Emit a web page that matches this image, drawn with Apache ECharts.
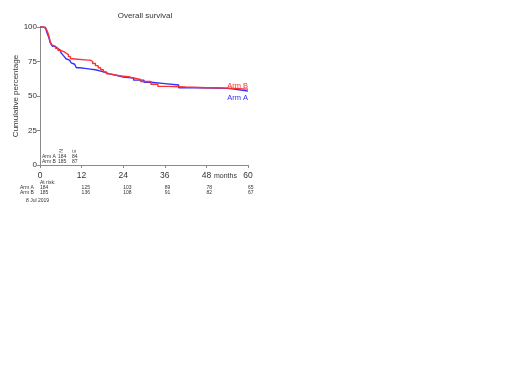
<!DOCTYPE html>
<html><head><meta charset="utf-8">
<script src="https://cdn.jsdelivr.net/npm/echarts@6/dist/echarts.min.js"></script>
<style>html,body{margin:0;padding:0;background:#fff}#c{width:520px;height:387px}</style>
</head><body><div id="c"></div>
<script>
// Kaplan-Meier step points [month, percent]
const armA = [[0,100],[1,100],[1.3,99],[1.6,98],[2,96],[2.3,94],[2.6,92],[2.9,89],[3.2,87.5],[3.6,86],[4.2,85],[4.8,84],[5.4,83],[6,81.5],[6.5,80],[7,78.5],[7.5,77],[8,76],[8.5,75],[9,74],[9.5,73],[10,72],[10.5,70.5],[11.5,70],[13,69.5],[14.5,69],[16,68],[17.5,67],[19,66],[20,65],[22,63.8],[24,63],[27,61.5],[30,60],[32,59],[36,58],[40,56],[45,55.8],[50,55.5],[54,55],[56,54],[59,53.5],[60,53.3]];
const armB = [[0,100],[1.5,100],[1.8,98.5],[2.1,97],[2.4,95],[2.7,92],[3,89],[3.4,87],[3.8,86],[4.5,84.5],[5.2,83],[6,82],[7,81],[7.6,80],[8.2,78.5],[8.8,77],[9.4,76],[13.8,76],[14.5,75],[15.2,73.5],[16,72],[16.8,70.5],[17.5,69],[18.3,67.5],[19.2,66],[20.2,65],[22,64.5],[23.5,64],[25.5,63],[27,62],[29,60.5],[32,58.5],[34,57],[37,56.5],[42,56],[48,56],[51,55.5],[56,55],[60,54.5]];
const xTicks = [0,12,24,36,48,60];
const atRiskA = [184,125,103,89,78,65];
const atRiskB = [185,136,108,91,82,67];
const summaryN = [184,185];
const summaryE = [84,87];

const FONT = 'Liberation Sans';
const chart = echarts.init(document.getElementById('c'), null, {renderer:'canvas'});
const axisCol = '#8a8a8a';
const txtCol = '#333';
chart.setOption({
  backgroundColor:'#fff',
  animation:false,
  title:{text:'Overall survival', left:140, top:7, textAlign:'center',
    textStyle:{fontFamily:FONT, fontSize:8, fontWeight:'normal', color:txtCol}},
  grid:{left:40, top:27, width:208, height:138},
  xAxis:{type:'value', min:0, max:60, interval:12,
    axisLine:{lineStyle:{color:axisCol}}, axisTick:{show:true, length:3, lineStyle:{color:axisCol}},
    splitLine:{show:false},
    axisLabel:{fontFamily:FONT, fontSize:8.5, color:txtCol, margin:6}},
  yAxis:{type:'value', min:0, max:100, interval:25,
    name:'Cumulative percentage', nameLocation:'middle', nameGap:20, nameRotate:90,
    nameTextStyle:{fontFamily:FONT, fontSize:8, color:txtCol},
    axisLine:{show:true, lineStyle:{color:axisCol}}, axisTick:{show:true, length:3, lineStyle:{color:axisCol}},
    splitLine:{show:false},
    axisLabel:{fontFamily:FONT, fontSize:8, color:txtCol, margin:3}},
  series:[
    {name:'Arm A', type:'line', step:'end', data:armA, symbol:'none', lineStyle:{color:'#3030ff', width:1.4}, z:3},
    {name:'Arm B', type:'line', step:'end', data:armB, symbol:'none', lineStyle:{color:'#ff3030', width:1.4}, z:4}
  ]
});

const g = [];
const txt = (x,y,s,fs,col,align,rot) => g.push({type:'text', x:x, y:y, rotation:rot||0,
  style:{text:s, fontFamily:FONT, fontSize:fs, fill:col||txtCol, align:align||'left', verticalAlign:'middle'}});
const xOf = v => chart.convertToPixel({xAxisIndex:0}, v);
// end labels
txt(248, 86, 'Arm B', 7.5, '#ff3030', 'right');
txt(248, 98, 'Arm A', 7.5, '#3030ff', 'right');
// months label
txt(214, 176.5, 'months', 7, txtCol, 'left');
// inset summary
txt(62, 151, 'N', 5, txtCol, 'center', Math.PI/2);
txt(75, 151, 'E', 5, txtCol, 'center', Math.PI/2);
txt(42, 156.5, 'Arm A', 5, txtCol, 'left');
txt(42, 161.5, 'Arm B', 5, txtCol, 'left');
txt(58, 156.5, String(summaryN[0]), 5, txtCol, 'left');
txt(58, 161.5, String(summaryN[1]), 5, txtCol, 'left');
txt(72, 156.5, String(summaryE[0]), 5, txtCol, 'left');
txt(72, 161.5, String(summaryE[1]), 5, txtCol, 'left');
// at-risk table
txt(xOf(0), 183, 'At risk:', 5, txtCol, 'left');
txt(20, 188, 'Arm A', 5, txtCol, 'left');
txt(20, 193, 'Arm B', 5, txtCol, 'left');
xTicks.forEach((m,i) => {
  txt(xOf(m), 188, String(atRiskA[i]), 5, txtCol, 'left');
  txt(xOf(m), 193, String(atRiskB[i]), 5, txtCol, 'left');
});
txt(26, 201, '8 Jul 2019', 5, txtCol, 'left');
chart.setOption({graphic:g});
</script></body></html>
